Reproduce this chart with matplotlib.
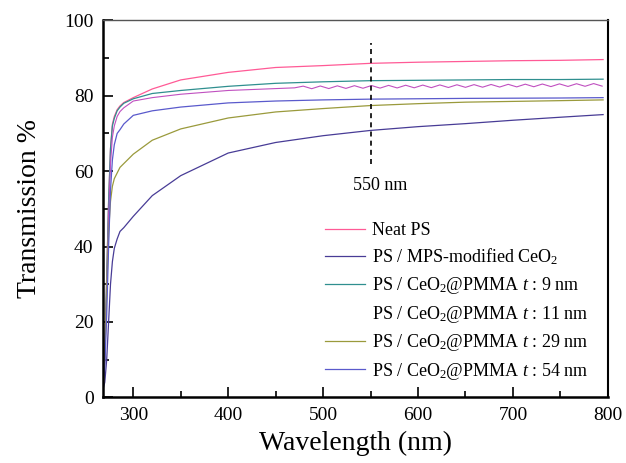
import matplotlib
matplotlib.use('Agg')
import matplotlib.pyplot as plt
from matplotlib.ticker import MultipleLocator

plt.rcParams['font.family'] = ['Liberation Serif', 'DejaVu Serif']
plt.rcParams['mathtext.fontset'] = 'custom'
plt.rcParams['mathtext.rm'] = 'Liberation Serif'
plt.rcParams['mathtext.it'] = 'Liberation Serif:italic'

# wavelength grid (nm) shared by the smooth spectra
wl = [268, 270, 272, 274, 276, 278, 280, 283, 286, 290, 300, 320, 350,
      400, 450, 500, 550, 600, 650, 700, 750, 795]

neat_ps = [3, 12, 32, 52, 66, 72.5, 74.5, 76.3, 77.3, 78.2, 79.5, 81.8,
           84.2, 86.2, 87.5, 88, 88.6, 88.9, 89.1, 89.3, 89.4, 89.6]
mps_ceo2 = [2, 4, 10, 20, 30, 36, 39.5, 42, 44, 45, 48, 53.5, 58.8, 64.8,
            67.6, 69.4, 70.8, 71.8, 72.6, 73.5, 74.3, 75]
pmma_9 = [3, 12, 32, 52, 66, 72, 74, 76, 77, 78, 79.2, 80.6, 81.4, 82.5,
          83.3, 83.7, 84, 84.1, 84.2, 84.3, 84.3, 84.4]
pmma_29 = [1, 10, 28, 44, 52, 56, 58, 59.5, 61, 62, 64.5, 68.2, 71.2, 74.1,
           75.7, 76.6, 77.4, 77.9, 78.3, 78.5, 78.7, 78.9]
pmma_54 = [2, 8, 22, 40, 55, 63, 67, 70, 71, 72.5, 74.8, 76, 77, 78.1,
           78.6, 78.9, 79.1, 79.2, 79.3, 79.35, 79.4, 79.5]

# 11 nm sample shows interference fringes, read point by point
wl_11 = [268, 270, 272, 274, 276, 278, 280, 283, 286, 290, 300, 320, 350,
         400, 450, 470, 479, 488, 497, 506, 515, 524, 533, 542, 551, 560,
         569, 578, 587, 596, 605, 614, 623, 632, 641, 650, 659, 668, 677,
         686, 695, 704, 713, 722, 731, 740, 749, 758, 767, 776, 785, 794]
pmma_11 = [2, 10, 28, 48, 62, 69, 72, 74.5, 75.8, 76.8, 78.6, 79.5, 80.4,
           81.4, 81.9, 82.1, 82.55, 81.87, 82.59, 81.91, 82.63, 81.95,
           82.67, 81.99, 82.71, 82.03, 82.75, 82.07, 82.79, 82.11, 82.83,
           82.15, 82.87, 82.19, 82.91, 82.23, 82.95, 82.27, 82.99, 82.31,
           83.03, 82.35, 83.07, 82.39, 83.11, 82.43, 83.15, 82.47, 83.19,
           82.51, 83.23, 82.55]

labels = ['Neat PS',
          'PS / MPS-modified CeO$_2$',
          'PS / CeO$_2$@PMMA $t$ : 9 nm',
          'PS / CeO$_2$@PMMA $t$ : 11 nm',
          'PS / CeO$_2$@PMMA $t$ : 29 nm',
          'PS / CeO$_2$@PMMA $t$ : 54 nm']
colors = ['#ff5a96', '#483c96', '#2f8f8f', '#c050c0', '#9a9a3c', '#5a5acc']

fig = plt.figure(figsize=(6.26, 4.63), dpi=100)
ax = fig.add_axes([0.165, 0.142, 0.806, 0.814])

ax.plot(wl, neat_ps, color=colors[0], lw=0.9, label=labels[0])
ax.plot(wl, mps_ceo2, color=colors[1], lw=0.9, label=labels[1])
ax.plot(wl, pmma_9, color=colors[2], lw=0.9, label=labels[2])
ax.plot(wl_11, pmma_11, color=colors[3], lw=0.8, label=labels[3])
ax.plot(wl, pmma_29, color=colors[4], lw=0.9, label=labels[4])
ax.plot(wl, pmma_54, color=colors[5], lw=0.9, label=labels[5])

ax.plot([550, 550], [62, 94], color='black', lw=1.2, ls=(0, (3, 2.5)))
ax.text(532, 56.3, '550 nm', fontsize=13, ha='left', va='center')

ax.set_xlim(268.4, 800)
ax.set_ylim(0, 100)
ax.xaxis.set_major_locator(MultipleLocator(100))
ax.xaxis.set_minor_locator(MultipleLocator(50))
ax.yaxis.set_major_locator(MultipleLocator(20))
ax.yaxis.set_minor_locator(MultipleLocator(10))
ax.tick_params(which='both', direction='in', top=False, right=False,
               labelsize=14, width=1.2)
ax.tick_params(which='major', length=7, pad=7)
ax.tick_params(which='minor', length=4.5)

ax.spines['left'].set_linewidth(1.8)
ax.spines['bottom'].set_linewidth(1.8)
ax.spines['right'].set_linewidth(1.5)
ax.spines['top'].set_linewidth(1.0)
ax.spines['top'].set_color('#555555')

ax.set_xlabel('Wavelength (nm)', fontsize=20, labelpad=5)
ax.set_ylabel('Transmission %', fontsize=20, labelpad=16)

leg = ax.legend(loc='upper left', bbox_to_anchor=(0.4257, 0.484), frameon=False,
                fontsize=13, handlelength=2.2, handletextpad=0.4,
                labelspacing=0.42, borderaxespad=0)
leg.get_lines()[3].set_visible(False)

fig.savefig('out.png', dpi=100)
